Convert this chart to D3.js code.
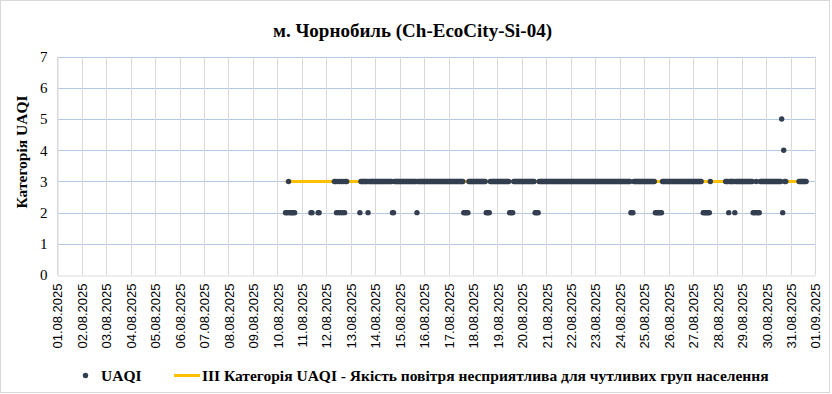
<!DOCTYPE html>
<html>
<head>
<meta charset="utf-8">
<script src="https://cdn.jsdelivr.net/npm/d3@7"></script>
<style>
    body { margin: 0; background: #fff; }
    text { fill: #000; }
</style>
</head>
<body>
<div id="chart"></div>
<script>
// chart texts
const chartTitle = 'м. Чорнобиль (Ch-EcoCity-Si-04)';
const yTitle = 'Категорія UAQI';
const seriesNames = ['UAQI', 'III Категорія UAQI - Якість повітря несприятлива для чутливих груп населення'];

// x range of the date axis (one tick per day)
const xStart = '01.08.2025';
const xEnd = '01.09.2025';
const yTicks = [0, 1, 2, 3, 4, 5, 6, 7];

// hourly UAQI, one string per day, char = hour 0..23, '.' = no data
const days = ['10.08.2025', '11.08.2025', '12.08.2025', '13.08.2025', '14.08.2025', '15.08.2025',
    '16.08.2025', '17.08.2025', '18.08.2025', '19.08.2025', '20.08.2025', '21.08.2025',
    '22.08.2025', '23.08.2025', '24.08.2025', '25.08.2025', '26.08.2025', '27.08.2025',
    '28.08.2025', '29.08.2025', '30.08.2025', '31.08.2025'];
const hourlyUaqi = [
    '........2223222222......',
    '.........22.....22......',
    '........3323232323233...',
    '.........233333332333333',
    '333333333333333332233333',
    '333333333333333332333333',
    '333333333333333333333333',
    '333333333333333222223333',
    '333333333333322223333333',
    '333333333333222233333333',
    '333333333333322223333333',
    '333333333333333333333333',
    '333333333333333333333333',
    '333333333333333333333333',
    '333333333332223333333333',
    '333333333332222222333333',
    '333333333333333333333333',
    '333333333.22222223......',
    '........3332333332333333',
    '333333333332223222333333',
    '33333333333333352433....',
    '........33333333........'
];

// category III threshold line
const thresholdValue = 3;

var state = {
    width: 832,
    height: 394,
    left: 57.3,
    right: 815.3,
    top: 56.7,
    bottom: 275,
    dotColor: '#333f50',
    lineColor: '#ffc000',
    vGridColor: '#d9d9d9',
    hGridColor: '#b4c7e7',
    serif: 'Tinos, "Times New Roman", serif',
    sans: '"Liberation Sans", Arial, sans-serif'
};

function parseDay(s, hour){
    let p = s.split('.');
    return new Date(Date.UTC(+p[2], +p[1] - 1, +p[0], hour || 0));
}

let points = [];
days.forEach((day, i) => {
    hourlyUaqi[i].split('').forEach((c, h) => {
        if(c !== '.') points.push({t: parseDay(day, h), v: +c});
    });
});

let svg = d3.select('#chart')
    .append('svg')
        .attr('width', state.width)
        .attr('height', state.height)
        .style('display', 'block');

svg.append('rect')
    .attr('x', 0.5).attr('y', 0.5)
    .attr('width', 829).attr('height', 392)
    .attr('fill', '#fff')
    .attr('stroke', '#d9d9d9');

let x = d3.scaleUtc()
    .domain([parseDay(xStart), parseDay(xEnd)])
    .range([state.left, state.right]);

let y = d3.scaleLinear()
    .domain([0, 7])
    .range([state.bottom, state.top]);

let dayTicks = d3.utcDay.range(parseDay(xStart), d3.utcDay.offset(parseDay(xEnd), 1));

//Grid lines
svg.append('g')
    .selectAll('line')
    .data(yTicks.filter(d => d > 0))
    .enter()
    .append('line')
        .attr('x1', state.left).attr('x2', state.right)
        .attr('y1', d => Math.round(y(d)) + 0.5)
        .attr('y2', d => Math.round(y(d)) + 0.5)
        .attr('stroke', state.hGridColor);

svg.append('g')
    .selectAll('line')
    .data(dayTicks)
    .enter()
    .append('line')
        .attr('x1', d => Math.round(x(d)) + 0.5)
        .attr('x2', d => Math.round(x(d)) + 0.5)
        .attr('y1', state.top).attr('y2', state.bottom)
        .attr('stroke', state.vGridColor);

//Bottom axis
let xAxis = d3.axisBottom(x)
    .tickValues(dayTicks)
    .tickSize(0)
    .tickFormat(d3.utcFormat('%d.%m.%Y'));

let gx = svg.append('g')
    .attr('transform', `translate(0,${Math.round(state.bottom) + 0.5})`)
    .call(xAxis);
gx.select('.domain').attr('stroke', state.vGridColor);
gx.selectAll('text')
    .attr('transform', 'rotate(-90)')
    .attr('x', -8)
    .attr('y', 0)
    .attr('dy', '0.36em')
    .style('text-anchor', 'end')
    .style('font-family', state.sans)
    .style('font-size', '13px')
    .style('fill', '#000');

//Left axis
let yAxis = d3.axisLeft(y)
    .tickValues(yTicks)
    .tickSize(0)
    .tickPadding(10)
    .tickFormat(d3.format('d'));

let gy = svg.append('g')
    .attr('transform', `translate(${Math.round(state.left) + 0.5},0)`)
    .call(yAxis);
gy.select('.domain').attr('stroke', state.vGridColor);
gy.selectAll('text')
    .attr('font-family', null)
    .style('font-family', state.serif)
    .style('font-size', '15px')
    .style('fill', '#000');

//Threshold line over the measured period
let tExtent = d3.extent(points, d => d.t);
svg.append('path')
    .datum(tExtent.map(t => ({t: t, v: thresholdValue})))
    .attr('d', d3.line().x(d => x(d.t)).y(d => y(d.v)))
    .attr('fill', 'none')
    .attr('stroke', state.lineColor)
    .attr('stroke-width', 3);

//UAQI points
svg.append('g')
    .selectAll('circle')
    .data(points)
    .enter()
    .append('circle')
        .attr('cx', d => x(d.t))
        .attr('cy', d => y(d.v))
        .attr('r', 2.7)
        .attr('fill', state.dotColor);

//Titles
svg.append('text')
    .attr('x', 412.5)
    .attr('y', 37)
    .attr('text-anchor', 'middle')
    .style('font-family', state.serif)
    .style('font-weight', 'bold')
    .style('font-size', '19px')
    .text(chartTitle);

svg.append('text')
    .attr('transform', 'translate(27,152) rotate(-90)')
    .attr('text-anchor', 'middle')
    .style('font-family', state.serif)
    .style('font-weight', 'bold')
    .style('font-size', '15.5px')
    .text(yTitle);

//Legend
let legend = svg.append('g');
legend.append('circle')
    .attr('cx', 85.5).attr('cy', 375.5)
    .attr('r', 2.7)
    .attr('fill', state.dotColor);
legend.append('text')
    .attr('x', 101).attr('y', 381)
    .style('font-family', state.serif)
    .style('font-weight', 'bold')
    .style('font-size', '15.5px')
    .text(seriesNames[0]);
legend.append('line')
    .attr('x1', 174).attr('x2', 200)
    .attr('y1', 375.5).attr('y2', 375.5)
    .attr('stroke', state.lineColor)
    .attr('stroke-width', 3);
legend.append('text')
    .attr('x', 202).attr('y', 381)
    .style('font-family', state.serif)
    .style('font-weight', 'bold')
    .style('font-size', '15.5px')
    .text(seriesNames[1]);
</script>
</body>
</html>
